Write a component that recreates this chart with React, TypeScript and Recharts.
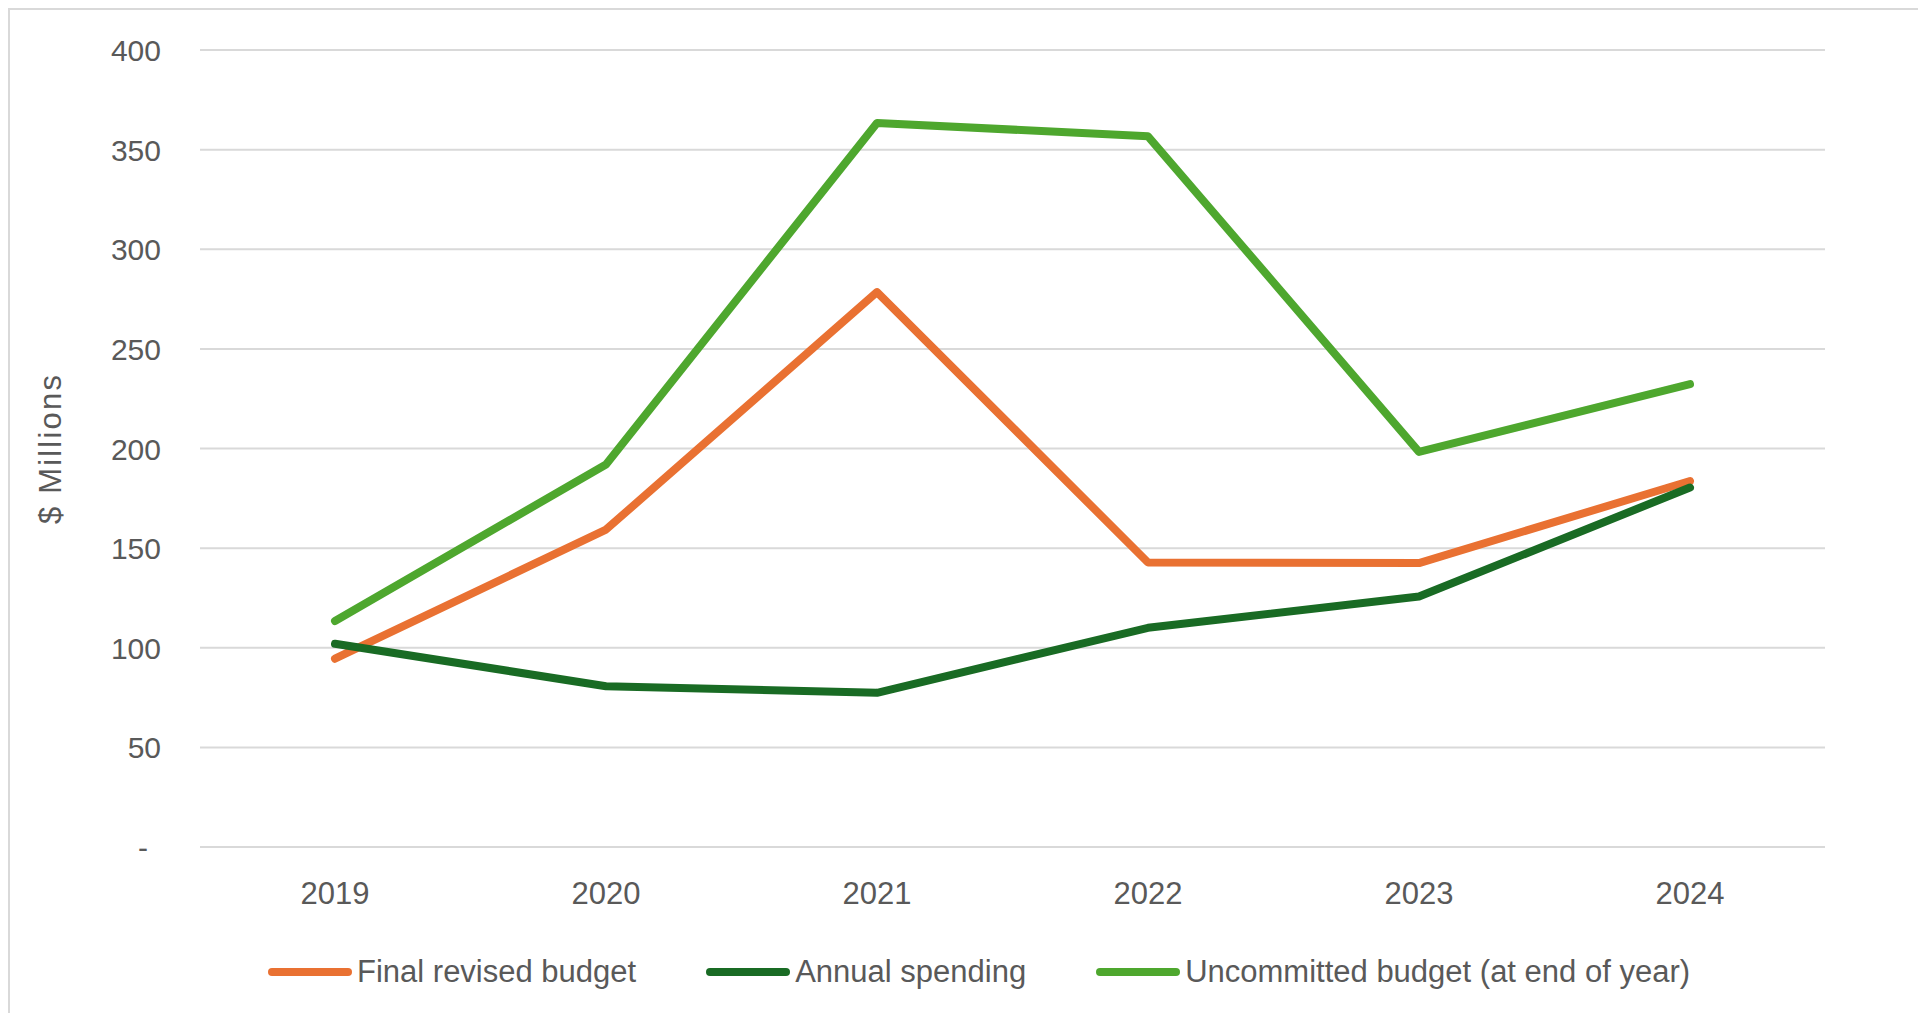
import { LineChart, Line, XAxis, YAxis, CartesianGrid, Legend } from 'recharts';

const years = ['2019', '2020', '2021', '2022', '2023', '2024'];
const seriesNames = ['Final revised budget', 'Annual spending', 'Uncommitted budget (at end of year)'];
const finalRevisedBudget = [94.5, 159.3, 278.5, 142.8, 142.5, 183.7];
const annualSpending = [102, 80.7, 77.4, 110, 125.7, 180.4];
const uncommittedBudget = [113.4, 192, 363.4, 356.7, 198.3, 232.3];
const yTicks = [0, 50, 100, 150, 200, 250, 300, 350, 400];

const FONT = '"Liberation Sans", Arial, sans-serif';
const TEXT = '#595959';

const chartData = years.map((year, i) => ({
  year,
  budget: finalRevisedBudget[i],
  spending: annualSpending[i],
  uncommitted: uncommittedBudget[i],
}));

const YTick = ({ x, y, payload }: any) => (
  <text
    x={payload.value === 0 ? x - 13 : x}
    y={y}
    dy={11}
    textAnchor="end"
    fill={TEXT}
    fontSize={30}
    fontFamily={FONT}
  >
    {payload.value === 0 ? '-' : payload.value}
  </text>
);

const YLabel = ({ viewBox }: any) => {
  const cx = viewBox.x + 40;
  const cy = viewBox.y + viewBox.height / 2;
  return (
    <text
      x={cx}
      y={cy}
      transform={`rotate(-90, ${cx}, ${cy})`}
      textAnchor="middle"
      dominantBaseline="central"
      fill={TEXT}
      fontSize={31}
      letterSpacing={2.2}
      fontFamily={FONT}
    >
      $ Millions
    </text>
  );
};

const renderLegend = ({ payload }: any) => {
  // keep series order rather than alphabetical
  const items = [...payload].sort((a: any, b: any) => seriesNames.indexOf(a.value) - seriesNames.indexOf(b.value));
  return (
    <div style={{ display: 'flex', alignItems: 'center', fontFamily: FONT, fontSize: 31, color: TEXT, whiteSpace: 'nowrap' }}>
      {items.map((entry: any, index: number) => (
        <div
          key={`legend-${index}`}
          style={{ display: 'flex', alignItems: 'center', marginRight: index < items.length - 1 ? 70 : 0 }}
        >
          <span style={{ display: 'inline-block', width: 84, height: 8, borderRadius: 4, background: entry.color, marginRight: 5 }} />
          <span>{entry.value}</span>
        </div>
      ))}
    </div>
  );
};

const App = () => {
  return (
    <div style={{ width: 1910, height: 1005, overflow: 'hidden', background: 'white' }}>
      <div style={{ width: 1920, height: 1010, borderTop: '2px solid #d9d9d9', borderLeft: '2px solid #d9d9d9' }}>
        <LineChart width={1916} height={1000} data={chartData} margin={{ top: 40, right: 101, left: 0, bottom: 83 }}>
          <CartesianGrid vertical={false} stroke="#d9d9d9" strokeWidth={2} />
          <XAxis
            dataKey="year"
            axisLine={false}
            tickLine={false}
            tickSize={0}
            tickMargin={35}
            height={80}
            padding={{ left: 135, right: 135 }}
            tick={{ fill: TEXT, fontSize: 31, fontFamily: FONT }}
          />
          <YAxis
            width={190}
            domain={[0, 400]}
            ticks={yTicks}
            axisLine={false}
            tickLine={false}
            tickSize={0}
            tickMargin={39}
            tick={<YTick />}
            label={{ content: <YLabel /> }}
          />
          <Legend
            layout="horizontal"
            verticalAlign="middle"
            align="center"
            content={renderLegend}
            wrapperStyle={{ left: 258, top: 944, width: 'auto' }}
          />
          <Line
            type="linear"
            dataKey="budget"
            name={seriesNames[0]}
            stroke="#E97132"
            strokeWidth={8}
            strokeLinecap="round"
            strokeLinejoin="round"
            dot={false}
            activeDot={false}
            isAnimationActive={false}
          />
          <Line
            type="linear"
            dataKey="spending"
            name={seriesNames[1]}
            stroke="#196B24"
            strokeWidth={8}
            strokeLinecap="round"
            strokeLinejoin="round"
            dot={false}
            activeDot={false}
            isAnimationActive={false}
          />
          <Line
            type="linear"
            dataKey="uncommitted"
            name={seriesNames[2]}
            stroke="#4EA72E"
            strokeWidth={8}
            strokeLinecap="round"
            strokeLinejoin="round"
            dot={false}
            activeDot={false}
            isAnimationActive={false}
          />
        </LineChart>
      </div>
    </div>
  );
};

export default App;
